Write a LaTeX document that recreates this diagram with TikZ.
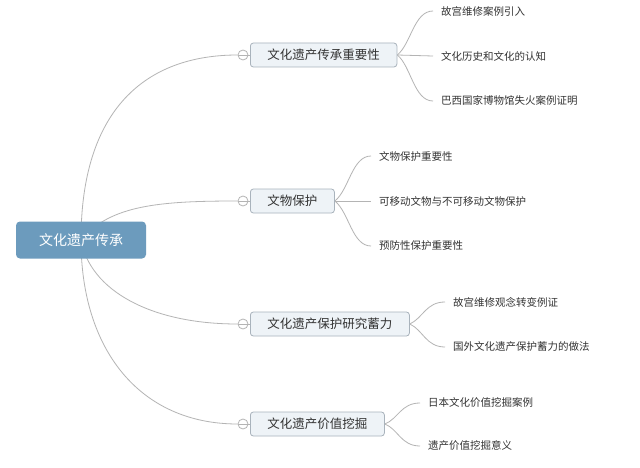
\documentclass[tikz,border=0pt]{standalone}
\usepackage{fontspec}
\newfontfamily\cjk{Noto Sans CJK SC}
\usetikzlibrary{backgrounds}
\definecolor{rootblue}{HTML}{6C9BBD}
\definecolor{linegray}{HTML}{B4B4B4}
\definecolor{boxfill}{HTML}{EEF3F7}
\definecolor{boxline}{HTML}{A9B3BC}
\definecolor{txt}{HTML}{333333}
\tikzset{
 rootbox/.style={rectangle, rounded corners=4pt, fill=rootblue, text=white, minimum width=130pt, minimum height=37pt, font=\cjk\fontsize{14}{16}\selectfont},
 topic/.style={rectangle, rounded corners=3pt, draw=boxline, fill=boxfill, text=txt, minimum height=24pt, inner xsep=17pt, anchor=west, font=\cjk\fontsize{12.5}{14}\selectfont, line width=0.8pt},
 leaf/.style={anchor=west, inner xsep=8pt, inner ysep=0pt, text=txt, font=\cjk\fontsize{10.5}{12}\selectfont},
 fold/.style={circle, draw=linegray, fill=white, minimum size=10pt, inner sep=0pt, line width=0.8pt},
 conn/.style={draw=linegray, line width=0.8pt},
}
\begin{document}
\begin{tikzpicture}[x=1pt,y=-1pt]
\useasboundingbox (0,0) rectangle (640,468);
% root
\node[rootbox] (root) at (81,240) {文化遗产传承};
% topics
\node[topic] (t1) at (250,55) {文化遗产传承重要性};
\node[topic] (t2) at (250,201) {文物保护};
\node[topic] (t3) at (250,324) {文化遗产保护研究蓄力};
\node[topic] (t4) at (250,424) {文化遗产价值挖掘};
% fold markers
\node[fold] (c1) at (243,55) {};
\node[fold] (c2) at (243,201) {};
\node[fold] (c3) at (243,324) {};
\node[fold] (c4) at (243,424) {};
\foreach \c in {c1,c2,c3,c4}{\draw[conn] (\c.west) -- (\c.east);}
% leaves
\node[leaf] (l11) at (433,11) {故宫维修案例引入};
\node[leaf] (l12) at (433,56) {文化历史和文化的认知};
\node[leaf] (l13) at (433,101) {巴西国家博物馆失火案例证明};
\node[leaf] (l21) at (371,156) {文物保护重要性};
\node[leaf] (l22) at (371,201) {可移动文物与不可移动文物保护};
\node[leaf] (l23) at (371,246) {预防性保护重要性};
\node[leaf] (l31) at (445,302) {故宫维修观念转变例证};
\node[leaf] (l32) at (445,347) {国外文化遗产保护蓄力的做法};
\node[leaf] (l41) at (420,403) {日本文化价值挖掘案例};
\node[leaf] (l42) at (420,446) {遗产价值挖掘意义};
\begin{scope}[on background layer]
\fill[white] (0,0) rectangle (640,468);
\draw[conn] (root.center) .. controls (81,110) and (145,55) .. (c1.west);
\draw[conn] (root.center) .. controls (110,205) and (160,201) .. (c2.west);
\draw[conn] (root.center) .. controls (90,290) and (150,324) .. (c3.west);
\draw[conn] (root.center) .. controls (81,350) and (140,424) .. (c4.west);
\draw[conn] (c1.east) -- (t1.west);
\draw[conn] (c2.east) -- (t2.west);
\draw[conn] (c3.east) -- (t3.west);
\draw[conn] (c4.east) -- (t4.west);
% topic 1 leaves
\draw[conn] (t1.east) .. controls (411,44) and (414,11) .. (l11.west);
\draw[conn] (t1.east) -- (l12.west);
\draw[conn] (t1.east) .. controls (411,66) and (414,101) .. (l13.west);
% topic 2 leaves
\draw[conn] (t2.east) .. controls (349,190) and (352,156) .. (l21.west);
\draw[conn] (t2.east) -- (l22.west);
\draw[conn] (t2.east) .. controls (349,212) and (352,246) .. (l23.west);
% topic 3 leaves
\draw[conn] (t3.east) .. controls (423,318) and (426,302) .. (l31.west);
\draw[conn] (t3.east) .. controls (423,330) and (426,347) .. (l32.west);
% topic 4 leaves
\draw[conn] (t4.east) .. controls (398,419) and (401,403) .. (l41.west);
\draw[conn] (t4.east) .. controls (398,429) and (401,446) .. (l42.west);
\end{scope}
\end{tikzpicture}
\end{document}
